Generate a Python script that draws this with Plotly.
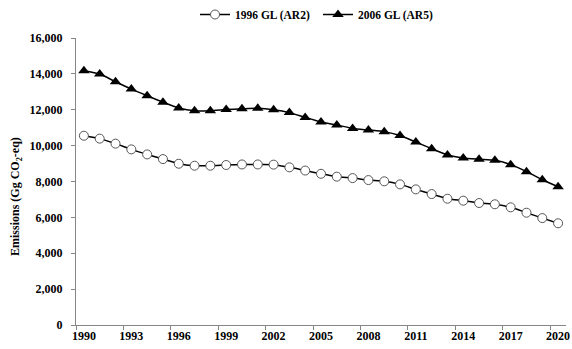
import plotly.graph_objects as go

years = list(range(1990, 2021))
gl1996_ar2 = [10550, 10390, 10110, 9790, 9510, 9250, 8990, 8880, 8880, 8920, 8950,
              8950, 8940, 8790, 8610, 8430, 8270, 8190, 8080, 8010, 7840, 7560,
              7300, 7040, 6930, 6800, 6730, 6560, 6260, 5960, 5670]
gl2006_ar5 = [14180, 13990, 13560, 13150, 12780, 12420, 12100, 11940, 11950, 12010, 12050,
              12080, 12000, 11840, 11570, 11320, 11150, 10960, 10870, 10780, 10560, 10200,
              9830, 9480, 9310, 9240, 9180, 8940, 8550, 8100, 7710]
x_labels = [str(y) for y in range(1990, 2021, 3)]
y_ticks = list(range(0, 16001, 2000))

font_family = "Liberation Serif"
W, H = 572, 349

fig = go.Figure()
fig.add_trace(go.Scatter(
    x=years, y=gl1996_ar2, name="<b>1996 GL (AR2)</b>", mode="lines+markers",
    line=dict(color="black", width=1.5, shape="spline", smoothing=0.6),
    marker=dict(symbol="circle", size=9, color="white", line=dict(color="#555555", width=1)),
    legend="legend",
))
fig.add_trace(go.Scatter(
    x=years, y=gl2006_ar5, name="<b>2006 GL (AR5)</b>", mode="lines+markers",
    line=dict(color="black", width=1.5, shape="spline", smoothing=0.6),
    marker=dict(symbol="triangle-up", size=10, color="black", line=dict(color="black", width=0)),
    legend="legend2",
))

legend_common = dict(orientation="h", xref="container", yref="container",
                     xanchor="left", y=1.0, yanchor="top",
                     font=dict(family=font_family, size=11.5, color="black"),
                     bgcolor="rgba(0,0,0,0)")

fig.update_layout(
    width=W, height=H,
    margin=dict(l=76, r=6, t=38, b=24, autoexpand=False),
    paper_bgcolor="white", plot_bgcolor="white",
    font=dict(family=font_family, size=12, color="black"),
    showlegend=True,
    legend=dict(x=195 / W, **legend_common),
    legend2=dict(x=318 / W, **legend_common),
    xaxis=dict(
        range=[1989.5, 2020.5], showgrid=False, zeroline=False, automargin=False,
        showline=True, linecolor="#868686", linewidth=1,
        tickmode="array", tickvals=[int(v) for v in x_labels],
        ticktext=["<b>%s</b>" % v for v in x_labels], ticks="",
        tickfont=dict(family=font_family, size=12, color="black"),
        minor=dict(tickmode="array", tickvals=[int(v) - 0.5 for v in x_labels],
                   ticks="outside", ticklen=4, tickcolor="#868686", tickwidth=1),
    ),
    yaxis=dict(
        range=[0, 16000], showgrid=False, zeroline=False, automargin=False,
        showline=True, linecolor="#868686", linewidth=1,
        tickmode="array", tickvals=y_ticks,
        ticktext=["<b>{:,}</b>".format(v) for v in y_ticks],
        ticks="outside", ticklen=4, tickcolor="#868686", ticklabelstandoff=6,
        tickfont=dict(family=font_family, size=12, color="black"),
    ),
    annotations=[dict(
        text="<b>Emissions (Gg CO<sub>2</sub>-eq)</b>", textangle=-90,
        xref="paper", yref="paper", x=-60 / 490, y=(325 - 197) / 287,
        xanchor="center", yanchor="middle", showarrow=False,
        font=dict(family=font_family, size=12, color="black"),
    )],
)

fig.write_html("out.html", config={"displayModeBar": False},
               post_script="document.body.style.margin='0px';document.body.style.overflow='hidden';")
